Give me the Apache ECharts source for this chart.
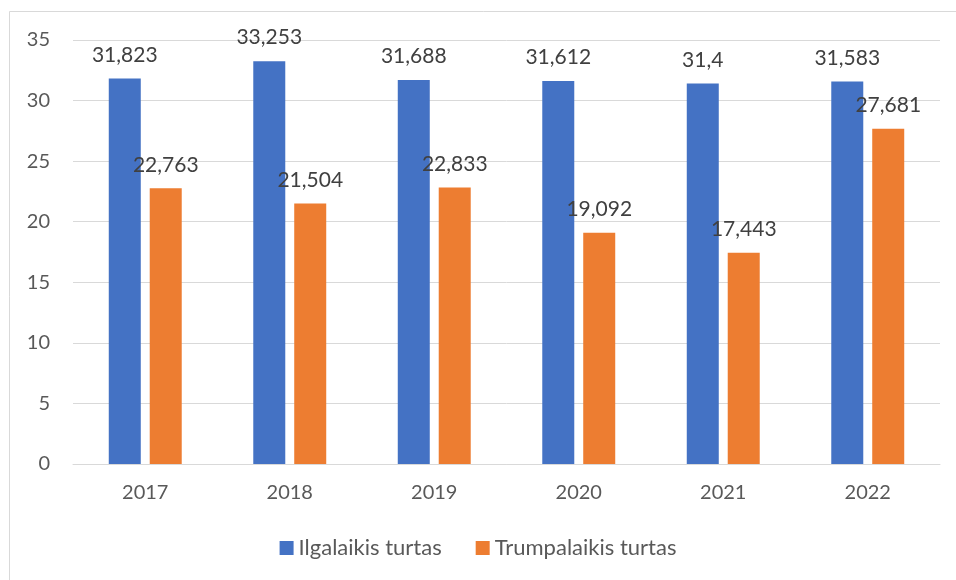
<!DOCTYPE html>
<html>
<head>
<meta charset="utf-8">
<script src="https://cdn.jsdelivr.net/npm/echarts@6/dist/echarts.min.js"></script>
<style>
  html, body { margin: 0; padding: 0; background: #fff; }
  #chart { width: 956px; height: 580px; }
</style>
</head>
<body>
<div id="chart"></div>
<script>
const years = ['2017', '2018', '2019', '2020', '2021', '2022'];
const longTermAssets = [31.823, 33.253, 31.688, 31.612, 31.4, 31.583];
const shortTermAssets = [22.763, 21.504, 22.833, 19.092, 17.443, 27.681];
const seriesNames = ['Ilgalaikis turtas', 'Trumpalaikis turtas'];

const FONT = 'Lato, "Open Sans", sans-serif';

// Decimal comma, as in Lithuanian number formatting
const fmt = v => String(v).replace('.', ',');

const labelStyle = {
  show: true,
  position: 'top',
  distance: 13,
  color: '#404040',
  fontSize: 21,
  fontFamily: FONT,
  formatter: p => fmt(p.value)
};

const chart = echarts.init(document.getElementById('chart'), null, { renderer: 'canvas' });
chart.setOption({
  animation: false,
  backgroundColor: '#fff',
  graphic: [{
    type: 'rect',
    shape: { x: 9.5, y: 11.5, width: 1000, height: 1000 },
    style: { fill: 'none', stroke: '#d9d9d9', lineWidth: 1 },
    silent: true
  }],
  grid: { left: 73, right: 16, top: 40, bottom: 116 },
  legend: {
    bottom: 16,
    left: 'center',
    itemWidth: 14,
    itemHeight: 14,
    itemGap: 34,
    icon: 'rect',
    textStyle: { color: '#595959', fontSize: 22, fontFamily: FONT },
    data: seriesNames
  },
  xAxis: {
    type: 'category',
    data: years,
    axisLine: { lineStyle: { color: '#d9d9d9', width: 1 } },
    axisTick: { show: false },
    axisLabel: { color: '#595959', fontSize: 20, fontFamily: FONT, margin: 19 }
  },
  yAxis: {
    type: 'value',
    min: 0,
    max: 35,
    interval: 5,
    axisLine: { show: false },
    axisTick: { show: false },
    axisLabel: { color: '#595959', fontSize: 20, fontFamily: FONT, margin: 23 },
    splitLine: { lineStyle: { color: '#d9d9d9', width: 1 } }
  },
  series: [
    {
      name: seriesNames[0],
      type: 'bar',
      data: longTermAssets,
      barWidth: 32,
      barGap: '28%',
      itemStyle: { color: '#4472c4' },
      label: labelStyle
    },
    {
      name: seriesNames[1],
      type: 'bar',
      data: shortTermAssets,
      barWidth: 32,
      barGap: '28%',
      itemStyle: { color: '#ed7d31' },
      label: labelStyle
    }
  ]
});
</script>
</body>
</html>
